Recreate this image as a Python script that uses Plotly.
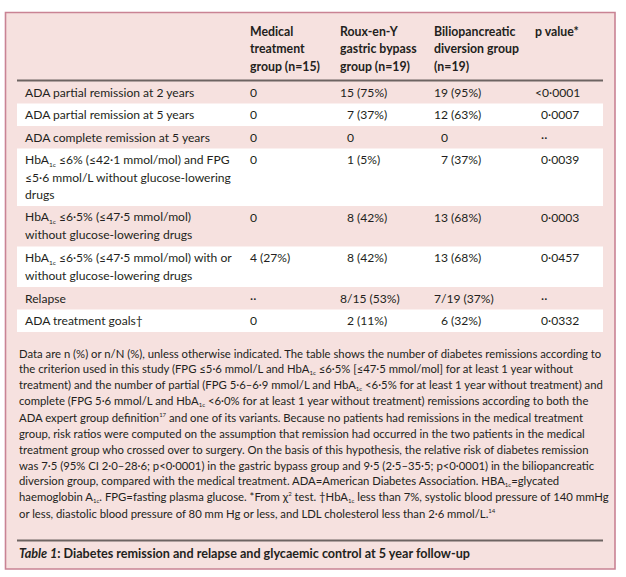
import plotly.graph_objects as go

# ---------------- data ----------------
col_heads = ["Medical<br>treatment<br>group (n=15)",
             "Roux-en-Y<br>gastric bypass<br>group (n=19)",
             "Biliopancreatic<br>diversion group<br>(n=19)",
             "p value*"]
row_labels = [
    ["ADA partial remission at 2 years"],
    ["ADA partial remission at 5 years"],
    ["ADA complete remission at 5 years"],
    ["HbA{1c} ≤6% (≤42·1 mmol/mol) and FPG", "≤5·6 mmol/L without glucose-lowering", "drugs"],
    ["HbA{1c} ≤6·5% (≤47·5 mmol/mol)", "without glucose-lowering drugs"],
    ["HbA{1c} ≤6·5% (≤47·5 mmol/mol) with or", "without glucose-lowering drugs"],
    ["Relapse"],
    ["ADA treatment goals†"],
]
medical = ["0", "0", "0", "0", "0", "4 (27%)", "··", "0"]
roux = ["15 (75%)", "7 (37%)", "0", "1 (5%)", "8 (42%)", "8 (42%)", "8/15 (53%)", "2 (11%)"]
bilio = ["19 (95%)", "12 (63%)", "0", "7 (37%)", "13 (68%)", "13 (68%)", "7/19 (37%)", "6 (32%)"]
pvals = ["&lt;0·0001", "0·0007", "··", "0·0039", "0·0003", "0·0457", "··", "0·0332"]

footnote = [
    "Data are n (%) or n/N (%), unless otherwise indicated. The table shows the number of diabetes remissions according to",
    "the criterion used in this study (FPG ≤5·6 mmol/L and HbA{1c} ≤6·5% [≤47·5 mmol/mol] for at least 1 year without",
    "treatment) and the number of partial (FPG 5·6–6·9 mmol/L and HbA{1c} &lt;6·5% for at least 1 year without treatment) and",
    "complete (FPG 5·6 mmol/L and HbA{1c} &lt;6·0% for at least 1 year without treatment) remissions according to both the",
    "ADA expert group definition[17] and one of its variants. Because no patients had remissions in the medical treatment",
    "group, risk ratios were computed on the assumption that remission had occurred in the two patients in the medical",
    "treatment group who crossed over to surgery. On the basis of this hypothesis, the relative risk of diabetes remission",
    "was 7·5 (95% CI 2·0–28·6; p&lt;0·0001) in the gastric bypass group and 9·5 (2·5–35·5; p&lt;0·0001) in the biliopancreatic",
    "diversion group, compared with the medical treatment. ADA=American Diabetes Association. HBA{1c}=glycated",
    "haemoglobin A{1c}. FPG=fasting plasma glucose. *From χ[2] test. †HbA{1c} less than 7%, systolic blood pressure of 140 mmHg",
    "or less, diastolic blood pressure of 80 mm Hg or less, and LDL cholesterol less than 2·6 mmol/L.[14]",
]
title = "<b><i>Table 1</i>: Diabetes remission and relapse and glycaemic control at 5 year follow-up</b>"

# ---------------- layout constants ----------------
W, H = 626, 577
FONT = "Lato"
TXT = "#231f20"
PINK = "#f6e1df"
BORDER = "#c98394"
RULE = "#6d6462"
x_label = 23
col_x = [248, 338, 432, 533]
indent_digit = 7.0
indent_p = 5.5
body_size = 12.1
head_size = 12.3
foot_size = 11.3
header_top = 31
line_h = 17.6
header_rule = 80.5
row_first = 11.2
row_h = {1: 22.5, 2: 40.5, 3: 57.5}
foot_y0, foot_dy = 353, 16
foot_rule, title_y = 540.5, 553


def fmt(s, small):
    """Turn {x} into a tiny subscript and [x] into a tiny superscript."""
    import re
    s = re.sub(r"\{([^}]*)\}", lambda m: '<sub><span style="font-size:%gpx">%s</span></sub>' % (small, m.group(1)), s)
    s = re.sub(r"\[(\d+)\]", lambda m: '<sup><span style="font-size:%gpx">%s</span></sup>' % (small, m.group(1)), s)
    return s


fig = go.Figure()
shapes = []
ann = []

# outer box
shapes.append(dict(type="rect", x0=5.5, y0=12.5, x1=615, y1=569,
                   line=dict(color=BORDER, width=1.6), fillcolor=PINK, layer="below"))

# header
for j, h in enumerate(col_heads):
    for k, ln in enumerate(h.split("<br>")):
        ann.append(dict(x=col_x[j], y=header_top + k * line_h, text="<b>" + ln + "</b>",
                        xanchor="left", yanchor="middle",
                        font=dict(family=FONT, size=head_size, color=TXT)))
shapes.append(dict(type="line", x0=17, x1=603, y0=header_rule, y1=header_rule,
                   line=dict(color=RULE, width=2)))

# body rows
top = header_rule + 0.5
for i, lab in enumerate(row_labels):
    h = row_h[len(lab)]
    if i % 2 == 1:
        shapes.append(dict(type="rect", x0=17, x1=603, y0=top, y1=top + h,
                           line=dict(width=0), fillcolor="white", layer="below"))
    y1 = top + row_first
    for k, ln in enumerate(lab):
        ann.append(dict(x=x_label, y=y1 + k * line_h, text=fmt(ln, 6.5), xanchor="left", yanchor="middle",
                        font=dict(family=FONT, size=body_size, color=TXT)))
    for j, col in enumerate([medical, roux, bilio]):
        v = col[i]
        x = col_x[j]
        if j > 0 and len(v.split(" ")[0]) == 1:
            x += indent_digit
        ann.append(dict(x=x, y=y1, text=v, xanchor="left", yanchor="middle",
                        font=dict(family=FONT, size=body_size, color=TXT)))
    pv = pvals[i]
    xp = col_x[3] + (0 if pv.startswith("&lt;") else indent_p)
    ann.append(dict(x=xp, y=y1, text=pv, xanchor="left", yanchor="middle",
                    font=dict(family=FONT, size=body_size, color=TXT)))
    top += h

# footnote
for k, ln in enumerate(footnote):
    ann.append(dict(x=17, y=foot_y0 + k * foot_dy, text=fmt(ln, 6), xanchor="left", yanchor="middle",
                    font=dict(family=FONT, size=foot_size, color=TXT)))
shapes.append(dict(type="line", x0=17, x1=603, y0=foot_rule, y1=foot_rule,
                   line=dict(color=RULE, width=2)))
ann.append(dict(x=17, y=title_y, text=title, xanchor="left", yanchor="middle",
                font=dict(family=FONT, size=12.6, color=TXT)))

for a in ann:
    a.update(xref="x", yref="y", showarrow=False)

fig.update_layout(
    width=W, height=H, margin=dict(l=0, r=0, t=0, b=0),
    paper_bgcolor="white", plot_bgcolor="white",
    xaxis=dict(range=[0, W], visible=False, fixedrange=True),
    yaxis=dict(range=[H, 0], visible=False, fixedrange=True),
    shapes=shapes, annotations=ann, showlegend=False,
)
fig.write_html("out.html", config={"displayModeBar": False},
               post_script="document.body.style.margin='0';document.body.style.overflow='hidden';")
